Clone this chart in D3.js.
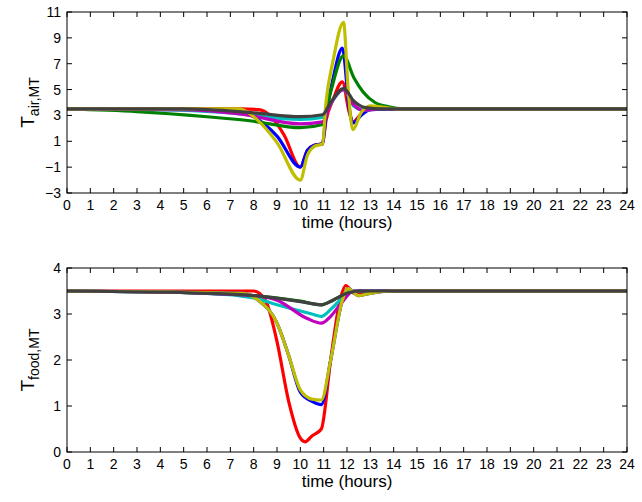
<!DOCTYPE html>
<html><head><meta charset="utf-8">
<script src="https://cdn.jsdelivr.net/npm/d3@7"></script>
<style>body{margin:0;background:#fff}svg{font-family:"Liberation Sans",Arial,sans-serif}</style>
</head><body><svg id="c" width="642" height="502"></svg>
<script>
const colors = ["#ff0000","#0000ff","#008000","#00bfbf","#bf00bf","#bfbf00","#404040"];
const xTicks = d3.range(0,25);
const airTicks = [-3,-1,1,3,5,7,9,11];
const foodTicks = [0,1,2,3,4];
// Top panel: [time, value]
const airRed = [[0,3.5],[7.5,3.5],[8.2,3.45],[8.7,3.0],[9.3,1.5],[10,-1.0],[10.3,0.3],[10.6,0.7],[10.95,0.8],[11.1,2.6],[11.4,4.2],[11.8,5.6],[12.1,3.2],[12.25,2.5],[12.6,3.1],[13,3.45],[14,3.5],[24,3.5]];
const airBlue = [[0,3.5],[7.3,3.4],[8,2.9],[9,1.4],[10,-1.0],[10.3,0.3],[10.6,0.7],[10.95,0.8],[11.1,3.0],[11.4,5.8],[11.8,8.2],[12.1,3.5],[12.25,2.4],[12.6,3.0],[13,3.45],[14,3.5],[24,3.5]];
const airGreen = [[0,3.5],[3,3.3],[6,2.9],[8,2.55],[10,2.05],[10.95,2.3],[11.3,4.8],[11.85,7.6],[12.3,5.9],[12.7,4.8],[13.2,4.0],[13.7,3.7],[14.5,3.5],[24,3.5]];
const airCyan = [[0,3.5],[4,3.45],[7,3.2],[10,2.7],[10.95,2.85],[11.3,3.9],[11.85,5.0],[12.3,3.7],[12.7,3.4],[13.3,3.5],[24,3.5]];
const airMagenta = [[0,3.5],[5,3.45],[7.5,3.1],[10,2.35],[10.95,2.5],[11.3,3.9],[11.85,5.0],[12.3,3.8],[12.7,3.4],[13.3,3.5],[24,3.5]];
const airYellow = [[0,3.5],[7.4,3.5],[8,2.9],[9,0.9],[10,-2.0],[10.3,-0.1],[10.6,0.6],[10.95,0.8],[11.1,4.0],[11.4,7.2],[11.85,10.2],[12.05,5.0],[12.25,1.9],[12.6,3.2],[13,3.75],[13.5,3.65],[14.2,3.5],[24,3.5]];
const airGray = [[0,3.5],[5,3.5],[8,3.2],[10,2.9],[10.95,3.05],[11.3,4.0],[11.85,5.1],[12.3,4.1],[12.8,3.6],[13.5,3.5],[24,3.5]];
// Bottom panel
const foodRed = [[0,3.5],[8,3.5],[8.5,3.3],[9,2.4],[9.5,1.1],[10,0.3],[10.2,0.22],[10.5,0.35],[10.9,0.5],[11.3,2.0],[11.7,3.3],[11.95,3.62],[12.3,3.45],[12.7,3.45],[13.5,3.5],[24,3.5]];
const foodBlue = [[0,3.5],[7.5,3.45],[8.2,3.3],[9,2.8],[9.5,2.1],[10,1.3],[10.5,1.1],[10.9,1.03],[11.3,2.0],[11.8,3.3],[12.05,3.55],[12.5,3.4],[13,3.45],[14,3.5],[24,3.5]];
const foodGreen = [[0,3.5],[6,3.45],[8,3.4],[10,3.28],[10.9,3.2],[11.4,3.3],[12,3.45],[12.5,3.5],[24,3.5]];
const foodCyan = [[0,3.5],[6,3.45],[8,3.35],[9,3.2],[10.5,3.0],[10.9,2.95],[11.3,3.1],[11.7,3.3],[12.2,3.5],[24,3.5]];
const foodMagenta = [[0,3.5],[6,3.45],[8,3.4],[9,3.3],[10.3,2.9],[10.9,2.8],[11.3,2.95],[11.7,3.2],[12.3,3.5],[24,3.5]];
const foodYellow = [[0,3.5],[7.5,3.45],[8.2,3.3],[9,2.8],[9.5,2.1],[10,1.35],[10.5,1.15],[10.9,1.13],[11.3,2.0],[11.8,3.3],[12.05,3.55],[12.5,3.4],[13,3.45],[14,3.5],[24,3.5]];
const foodGray = [[0,3.5],[6,3.45],[8,3.4],[10,3.27],[10.9,3.2],[11.4,3.3],[12,3.45],[12.5,3.5],[24,3.5]];

const svg = d3.select("#c");
const x = d3.scaleLinear().domain([0,24]).range([67,627]);
function panel(top,bottom,dom,ticks,series,lab){
  const y = d3.scaleLinear().domain(dom).range([bottom,top]);
  const g = svg.append("g");
  const line = d3.line().x(d=>x(d[0])).y(d=>y(d[1])).curve(d3.curveMonotoneX);
  series.forEach((s,i)=>g.append("path").attr("d",line(s)).attr("fill","none")
    .attr("stroke",colors[i]).attr("stroke-width",3.2).attr("stroke-linejoin","round"));
  g.append("rect").attr("x",67).attr("y",top).attr("width",560).attr("height",bottom-top)
    .attr("fill","none").attr("stroke","#000").attr("stroke-width",1);
  xTicks.forEach(t=>{
    g.append("line").attr("x1",x(t)).attr("x2",x(t)).attr("y1",bottom).attr("y2",bottom-5).attr("stroke","#000");
    g.append("line").attr("x1",x(t)).attr("x2",x(t)).attr("y1",top).attr("y2",top+5).attr("stroke","#000");
    g.append("text").attr("x",x(t)).attr("y",bottom+17).attr("text-anchor","middle").attr("font-size",14).text(t);
  });
  ticks.forEach(t=>{
    g.append("line").attr("x1",67).attr("x2",72).attr("y1",y(t)).attr("y2",y(t)).attr("stroke","#000");
    g.append("line").attr("x1",627).attr("x2",622).attr("y1",y(t)).attr("y2",y(t)).attr("stroke","#000");
    g.append("text").attr("x",61).attr("y",y(t)+5).attr("text-anchor","end").attr("font-size",14).text(t<0?"\u2212"+(-t):t);
  });
  g.append("text").attr("x",347).attr("y",bottom+35).attr("text-anchor","middle").attr("font-size",17).text("time (hours)");
  const yl = g.append("text").attr("transform",`translate(34,${(top+bottom)/2}) rotate(-90)`)
    .attr("text-anchor","middle").attr("font-size",19);
  yl.append("tspan").text("T");
  yl.append("tspan").attr("font-size",14).attr("dy",5).text(lab);
}
panel(12,193,[-3,11],airTicks,[airRed,airBlue,airGreen,airCyan,airMagenta,airYellow,airGray],"air,MT");
panel(268,452,[0,4],foodTicks,[foodRed,foodBlue,foodGreen,foodCyan,foodMagenta,foodYellow,foodGray],"food,MT");
</script></body></html>
